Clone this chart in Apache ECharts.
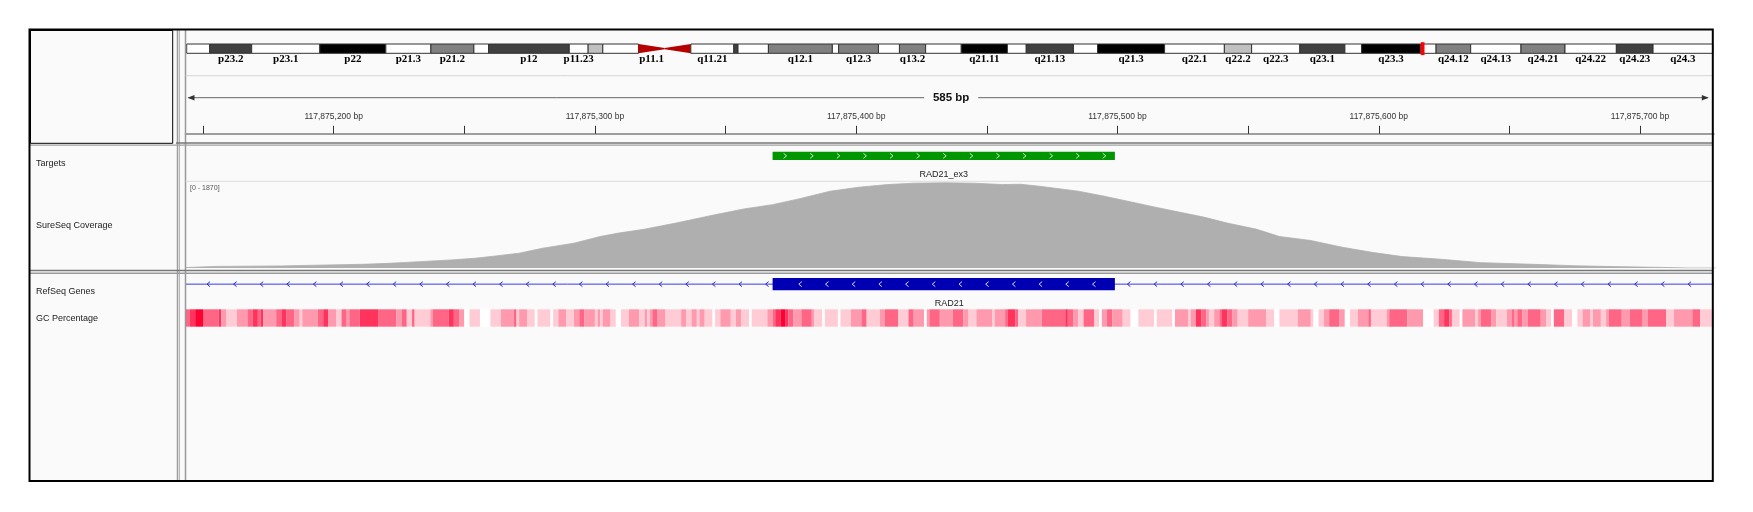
<!DOCTYPE html>
<html>
<head>
<meta charset="utf-8">
<script src="https://cdn.jsdelivr.net/npm/echarts@6.0.0/dist/echarts.min.js"></script>
<style>
html, body { margin: 0; padding: 0; background: #fff; }
#main { width: 1753px; height: 512px; }
</style>
</head>
<body>
<div id="main"></div>
<script>
// visible locus (chr8, hg19)
var viewStart = 117875143.3;
var viewEnd = 117875728.3;
var rulerTicks = [117875150, 117875200, 117875250, 117875300, 117875350, 117875400, 117875450,
  117875500, 117875550, 117875600, 117875650, 117875700];
var rulerLabels = [117875200, 117875300, 117875400, 117875500, 117875600, 117875700];

// chr8 cytobands, Mb
var bandNames = ['p23.3', 'p23.2', 'p23.1', 'p22', 'p21.3', 'p21.2', 'p21.1', 'p12', 'p11.23', 'p11.22',
  'p11.21', 'p11.1', 'q11.1', 'q11.21', 'q11.22', 'q11.23', 'q12.1', 'q12.2', 'q12.3', 'q13.1',
  'q13.2', 'q13.3', 'q21.11', 'q21.12', 'q21.13', 'q21.2', 'q21.3', 'q22.1', 'q22.2', 'q22.3',
  'q23.1', 'q23.2', 'q23.3', 'q24.11', 'q24.12', 'q24.13', 'q24.21', 'q24.22', 'q24.23', 'q24.3'];
var bandStarts = [0, 2.2, 6.2, 12.7, 19.0, 23.3, 27.4, 28.8, 36.5, 38.3,
  39.7, 43.1, 45.6, 48.1, 52.2, 52.6, 55.5, 61.6, 62.2, 66.0,
  68.0, 70.5, 73.9, 78.3, 80.1, 84.6, 86.9, 93.3, 99.0, 101.6,
  106.2, 110.5, 112.1, 117.7, 119.2, 122.5, 127.3, 131.5, 136.4, 139.9];
var bandEnds = [2.2, 6.2, 12.7, 19.0, 23.3, 27.4, 28.8, 36.5, 38.3, 39.7,
  43.1, 45.6, 48.1, 52.2, 52.6, 55.5, 61.6, 62.2, 66.0, 68.0,
  70.5, 73.9, 78.3, 80.1, 84.6, 86.9, 93.3, 99.0, 101.6, 106.2,
  110.5, 112.1, 117.7, 119.2, 122.5, 127.3, 131.5, 136.4, 139.9, 146.364];
var bandStains = ['gneg', 'gpos75', 'gneg', 'gpos100', 'gneg', 'gpos50', 'gneg', 'gpos75', 'gneg', 'gpos25',
  'gneg', 'acen', 'acen', 'gneg', 'gpos75', 'gneg', 'gpos50', 'gneg', 'gpos50', 'gneg',
  'gpos50', 'gneg', 'gpos100', 'gneg', 'gpos75', 'gneg', 'gpos100', 'gneg', 'gpos25', 'gneg',
  'gpos75', 'gneg', 'gpos100', 'gneg', 'gpos50', 'gneg', 'gpos50', 'gneg', 'gpos75', 'gneg'];
var bandShowLabel = [0, 1, 1, 1, 1, 1, 0, 1, 1, 0,
  0, 1, 0, 1, 0, 0, 1, 0, 1, 0,
  1, 0, 1, 0, 1, 0, 1, 1, 1, 1,
  1, 0, 1, 0, 1, 1, 1, 1, 1, 1];
var ideoMax = 145.6; // the panel edge cuts the chromosome here
var stainColors = { gneg: '#ffffff', gpos25: '#c0c0c0', gpos50: '#808080', gpos75: '#404040', gpos100: '#000000' };

// Targets track
var targetStarts = [117875368];
var targetEnds = [117875499];
var targetNames = ['RAD21_ex3'];

// RefSeq gene
var geneName = 'RAD21';
var geneStart = 117858173;
var geneEnd = 117887105;
var exonStarts = [117875368];
var exonEnds = [117875499];

// SureSeq coverage, positions are bp after 117,875,000
var posBase = 117875000;
var covMax = 1870;
var covPos = [143, 155, 180, 193, 211, 221, 233, 245, 254, 262, 271, 280, 292, 302, 309, 319, 331, 346,
  357, 368, 378, 390, 401, 412, 422, 434, 445, 456, 463, 470, 485, 495, 507, 514, 524, 533, 542, 553,
  562, 574, 586, 598, 609, 624, 639, 659, 674, 690, 711, 718, 729];
var covVal = [8, 35, 45, 60, 80, 100, 137, 174, 210, 260, 320, 428, 537, 680, 754, 840, 971, 1152,
  1276, 1370, 1493, 1660, 1746, 1804, 1833, 1841, 1833, 1804, 1810, 1768, 1660, 1551, 1406, 1320, 1203, 1100, 971, 841,
  681, 594, 449, 333, 246, 188, 116, 80, 51, 30, 10, 0, 0];

// GC percentage runs: start (bp after 117,875,000) and GC %
var gcStarts = [142, 145, 147, 150, 156, 157, 159, 163, 167, 169, 171, 172, 173, 178, 180, 182, 185, 187, 188, 194,
  196, 198, 201, 203, 205, 206, 210, 217, 224, 226, 228, 230, 231, 237, 238, 244, 246, 248, 250, 252,
  256, 260, 264, 269, 270, 271, 274, 277, 278, 283, 284, 286, 289, 292, 294, 296, 300, 301, 302, 303,
  306, 308, 310, 313, 317, 319, 320, 321, 322, 324, 327, 333, 335, 337, 339, 340, 342, 345, 346, 348,
  352, 354, 356, 359, 360, 366, 368, 369, 371, 373, 374, 376, 379, 383, 384, 387, 388, 393, 394, 398,
  402, 404, 409, 411, 416, 420, 422, 426, 427, 428, 432, 437, 441, 443, 446, 452, 453, 457, 458, 461,
  462, 465, 471, 480, 481, 483, 485, 487, 491, 493, 494, 496, 498, 502, 505, 508, 514, 515, 521, 522,
  527, 528, 530, 532, 534, 535, 537, 539, 540, 542, 544, 546, 550, 557, 560, 562, 569, 574, 575, 577,
  579, 581, 585, 587, 589, 592, 596, 597, 603, 604, 611, 617, 621, 623, 625, 627, 628, 631, 632, 637,
  638, 639, 643, 645, 649, 651, 652, 653, 655, 657, 662, 664, 666, 667, 671, 674, 676, 678, 681, 682,
  685, 687, 688, 693, 696, 701, 703, 710, 713, 720, 723];
var gcPct = [60, 80, 100, 60, 80, 40, 20, 40, 60, 80, 60, 80, 40, 60, 80, 60, 40, 20, 40, 60,
  80, 40, 20, 60, 40, 60, 80, 60, 40, 60, 20, 60, 20, 40, 60, 80, 60, 40, 0, 20,
  0, 20, 40, 60, 20, 40, 20, 0, 20, 0, 20, 40, 20, 40, 60, 40, 20, 40, 20, 40,
  20, 0, 20, 40, 20, 40, 20, 40, 60, 40, 20, 40, 20, 40, 20, 40, 20, 0, 20, 40,
  20, 40, 20, 0, 20, 40, 60, 80, 100, 80, 60, 40, 60, 40, 20, 0, 20, 0, 20, 40,
  60, 20, 40, 60, 20, 60, 40, 0, 40, 60, 40, 60, 40, 20, 40, 20, 40, 60, 80, 60,
  20, 40, 60, 80, 60, 40, 20, 60, 20, 0, 40, 60, 40, 20, 0, 20, 0, 20, 0, 40,
  20, 40, 80, 60, 40, 20, 40, 60, 80, 60, 40, 20, 40, 20, 0, 20, 40, 20, 0, 20,
  40, 60, 40, 0, 20, 40, 60, 20, 40, 60, 40, 0, 20, 60, 80, 60, 20, 0, 40, 20,
  40, 60, 40, 20, 40, 60, 40, 60, 40, 60, 40, 20, 0, 60, 20, 0, 20, 40, 20, 40,
  20, 40, 60, 40, 60, 40, 60, 20, 40, 60, 20];

var trackNames = ['Targets', 'SureSeq Coverage', 'RefSeq Genes', 'GC Percentage'];

// ---- layout ----
var dataLeft = 185.5, dataRight = 1714;
var frameRight = 1712.8;
var dataWidth = dataRight - dataLeft;
var sans = '"Liberation Sans", Arial, sans-serif';

function clampBp(v) { return Math.max(viewStart, Math.min(viewEnd, v)); }
function gcColor(p) {
  var t = p / 100;
  return 'rgb(255,' + Math.round(255 - 255 * t) + ',' + Math.round(255 - 204 * t) + ')';
}
function fmtBp(v) { return String(v).replace(/\B(?=(\d{3})+(?!\d))/g, ',') + ' bp'; }

var chartDom = document.getElementById('main');
var myChart = echarts.init(chartDom);
var option;

function xAx(i, min, max) {
  return { gridIndex: i, type: 'value', min: min, max: max, show: false };
}
function yAx(i, min, max) {
  return { gridIndex: i, type: 'value', min: min, max: max, show: false };
}

var ideoData = bandNames.map(function (n, i) { return [bandStarts[i], bandEnds[i], i]; });
var gcData = gcStarts.map(function (s, i) {
  var e = i + 1 < gcStarts.length ? posBase + gcStarts[i + 1] : viewEnd;
  return [posBase + s, e, gcPct[i]];
});
var covData = covPos.map(function (p, i) { return [posBase + p, covVal[i]]; });
var targetData = targetStarts.map(function (s, i) { return [s, targetEnds[i], i]; });

var graphics = [
  { type: 'rect', z: -10, shape: { x: 30, y: 30, width: frameRight - 30, height: 451 }, style: { fill: '#fafafa' } },
  // header name box
  { type: 'rect', z: 100, shape: { x: 30.5, y: 30.5, width: 142.2, height: 112.8 }, style: { fill: null, stroke: '#000', lineWidth: 1 } },
  { type: 'line', z: 100, shape: { x1: 177.3, y1: 30, x2: 177.3, y2: 481 }, style: { stroke: '#888', lineWidth: 1 } },
  { type: 'line', z: 100, shape: { x1: 179.2, y1: 30, x2: 179.2, y2: 481 }, style: { stroke: '#999', lineWidth: 1 } },
  { type: 'line', z: 100, shape: { x1: 185.5, y1: 30, x2: 185.5, y2: 481 }, style: { stroke: '#999', lineWidth: 1.5 } },
  // header separators
  { type: 'line', z: 100, shape: { x1: dataLeft, y1: 75.7, x2: frameRight, y2: 75.7 }, style: { stroke: '#d6d6d6', lineWidth: 1 } },
  { type: 'line', z: 100, shape: { x1: 176, y1: 143, x2: frameRight, y2: 143 }, style: { stroke: '#777', lineWidth: 1.5 } },
  { type: 'line', z: 100, shape: { x1: 30, y1: 145.2, x2: frameRight, y2: 145.2 }, style: { stroke: '#a0a0a0', lineWidth: 1.3 } },
  { type: 'line', z: 100, shape: { x1: 30, y1: 270.5, x2: frameRight, y2: 270.5 }, style: { stroke: '#777', lineWidth: 1.5 } },
  { type: 'line', z: 100, shape: { x1: 30, y1: 273.2, x2: frameRight, y2: 273.2 }, style: { stroke: '#999', lineWidth: 1.5 } },
  { type: 'line', z: 100, shape: { x1: dataLeft, y1: 181.3, x2: frameRight, y2: 181.3 }, style: { stroke: '#dcdcdc', lineWidth: 1 } },
  // outer frame
  { type: 'rect', z: 110, shape: { x: 29.5, y: 29.5, width: frameRight - 29.5, height: 451.5 }, style: { fill: null, stroke: '#000', lineWidth: 2 } }
];

// ruler span line with the width label
var spanText = Math.round(viewEnd - viewStart) + ' bp';
var midX = (dataLeft + frameRight) / 2;
graphics.push(
  { type: 'line', shape: { x1: dataLeft + 3, y1: 97.7, x2: midX - 25, y2: 97.7 }, style: { stroke: '#666', lineWidth: 1 } },
  { type: 'line', shape: { x1: midX + 29, y1: 97.7, x2: frameRight - 5, y2: 97.7 }, style: { stroke: '#666', lineWidth: 1 } },
  { type: 'polygon', shape: { points: [[dataLeft + 2, 97.7], [dataLeft + 9, 95], [dataLeft + 9, 100.4]] }, style: { fill: '#333' } },
  { type: 'polygon', shape: { points: [[frameRight - 4, 97.7], [frameRight - 11, 95], [frameRight - 11, 100.4]] }, style: { fill: '#333' } },
  { type: 'text', style: { text: spanText, x: midX + 2, y: 97.5, align: 'center', verticalAlign: 'middle', font: 'bold 11.5px ' + sans, fill: '#111' } },
  { type: 'text', style: { text: '[0 - ' + covMax + ']', x: 190, y: 188, verticalAlign: 'middle', font: '7px ' + sans, fill: '#555' } }
);
var nameY = [164, 226, 292, 319];
trackNames.forEach(function (n, i) {
  graphics.push({ type: 'text', z: 50, style: { text: n, x: 36, y: nameY[i], verticalAlign: 'middle', font: '9px ' + sans, fill: '#222' } });
});

function chevrons(children, x0, x1, first, step, cy, dir, color) {
  for (var x = x0 + first; x < x1 - 4; x += step) {
    children.push({
      type: 'polyline',
      shape: { points: [[x - 1.5 * dir, cy - 2.5], [x + 1.5 * dir, cy], [x - 1.5 * dir, cy + 2.5]] },
      style: { stroke: color, lineWidth: 1, fill: null }
    });
  }
}

option = {
  animation: false,
  backgroundColor: '#ffffff',
  graphic: graphics,
  grid: [
    { left: 186.7, width: frameRight - 186.7, top: 44, height: 9.3 },
    { left: dataLeft, width: dataWidth, top: 100, height: 33.8 },
    { left: dataLeft, width: dataWidth, top: 151.7, height: 8.3 },
    { left: dataLeft, width: dataWidth, top: 181.5, height: 86.5 },
    { left: dataLeft, width: dataWidth, top: 278, height: 12.3 },
    { left: dataLeft, width: dataWidth, top: 309.3, height: 17.4 }
  ],
  xAxis: [
    xAx(0, 0, ideoMax),
    {
      gridIndex: 1, type: 'value', min: viewStart, max: viewEnd, position: 'bottom',
      axisLine: { show: true, lineStyle: { color: '#808080', width: 1.5 } },
      axisTick: { show: true, inside: true, length: 8, customValues: rulerTicks, lineStyle: { color: '#333', width: 1 } },
      axisLabel: {
        show: true, inside: true, margin: 12.5, customValues: rulerLabels, formatter: fmtBp,
        fontSize: 8.5, color: '#333', fontFamily: sans
      },
      splitLine: { show: false }
    },
    xAx(2, viewStart, viewEnd),
    xAx(3, viewStart, viewEnd),
    xAx(4, viewStart, viewEnd),
    xAx(5, viewStart, viewEnd)
  ],
  yAxis: [yAx(0, 0, 1), yAx(1, 0, 1), yAx(2, 0, 1), yAx(3, 0, covMax), yAx(4, 0, 1), yAx(5, 0, 1)],
  series: [
    {
      // ideogram
      type: 'custom', xAxisIndex: 0, yAxisIndex: 0, data: ideoData,
      renderItem: function (params, api) {
        var i = api.value(2);
        var x0 = api.coord([api.value(0), 0])[0];
        var x1 = api.coord([Math.min(api.value(1), ideoMax), 0])[0];
        var top = api.coord([0, 1])[1], bot = api.coord([0, 0])[1], mid = (top + bot) / 2;
        var children = [];
        var st = bandStains[i];
        if (st === 'acen') {
          var pts = bandNames[i].charAt(0) === 'p'
            ? [[x0, top], [x1, mid - 0.6], [x1, mid + 0.6], [x0, bot]]
            : [[x0, mid - 0.6], [x1, top], [x1, bot], [x0, mid + 0.6]];
          children.push({ type: 'polygon', shape: { points: pts }, style: { fill: '#b40000' } });
        } else {
          children.push({
            type: 'rect', shape: { x: x0, y: top, width: x1 - x0, height: bot - top },
            style: { fill: stainColors[st], stroke: '#333', lineWidth: 1 }
          });
        }
        if (bandShowLabel[i]) {
          children.push({
            type: 'text',
            style: {
              text: bandNames[i], x: (x0 + x1) / 2, y: bot + 5.5, align: 'center', verticalAlign: 'middle',
              font: 'bold 11px "Liberation Serif", "Times New Roman", serif', fill: '#000'
            }
          });
        }
        return { type: 'group', children: children };
      }
    },
    {
      // current locus marker on the ideogram
      type: 'custom', xAxisIndex: 0, yAxisIndex: 0, z: 5,
      data: [[(viewStart + viewEnd) / 2e6]],
      renderItem: function (params, api) {
        var x = api.coord([api.value(0), 0])[0];
        var top = api.coord([0, 1])[1], bot = api.coord([0, 0])[1];
        return { type: 'rect', shape: { x: x - 1.5, y: top - 1.8, width: 3.8, height: bot - top + 3.6 }, style: { fill: '#ff0000' } };
      }
    },
    {
      // targets
      type: 'custom', xAxisIndex: 2, yAxisIndex: 2, data: targetData,
      renderItem: function (params, api) {
        var x0 = api.coord([clampBp(api.value(0)), 0])[0];
        var x1 = api.coord([clampBp(api.value(1)), 0])[0];
        var top = api.coord([0, 1])[1], bot = api.coord([0, 0])[1], mid = (top + bot) / 2;
        var children = [{ type: 'rect', shape: { x: x0, y: top, width: x1 - x0, height: bot - top }, style: { fill: '#009600' } }];
        chevrons(children, x0, x1, 12.5, 26.6, mid, 1, 'rgba(255,255,255,0.8)');
        children.push({
          type: 'text',
          style: { text: targetNames[api.value(2)], x: (x0 + x1) / 2, y: bot + 14.7, align: 'center', verticalAlign: 'middle', font: '9px ' + sans, fill: '#222' }
        });
        return { type: 'group', children: children };
      }
    },
    {
      // coverage
      type: 'line', xAxisIndex: 3, yAxisIndex: 3, data: covData,
      symbol: 'none', lineStyle: { color: '#afafaf', width: 0.8 },
      areaStyle: { color: '#afafaf', opacity: 1 }
    },
    {
      // gene model
      type: 'custom', xAxisIndex: 4, yAxisIndex: 4, data: [[geneStart, geneEnd]],
      renderItem: function (params, api) {
        var g0 = api.coord([clampBp(api.value(0)), 0])[0];
        var g1 = api.coord([clampBp(api.value(1)), 0])[0];
        var top = api.coord([0, 1])[1], bot = api.coord([0, 0])[1], mid = (top + bot) / 2;
        var children = [{ type: 'line', shape: { x1: g0, y1: mid, x2: g1, y2: mid }, style: { stroke: '#3c3ce6', lineWidth: 1 } }];
        var prev = g0;
        exonStarts.forEach(function (s, k) {
          var e0 = api.coord([clampBp(s), 0])[0];
          var e1 = api.coord([clampBp(exonEnds[k]), 0])[0];
          chevrons(children, prev, e0, k === 0 ? 23 : 14, 26.6, mid, -1, '#2a2ad0');
          children.push({ type: 'rect', shape: { x: e0, y: top, width: e1 - e0, height: bot - top }, style: { fill: '#0000b2' } });
          chevrons(children, e0, e1, 27.7, 26.7, mid, -1, 'rgba(255,255,255,0.85)');
          prev = e1;
        });
        chevrons(children, prev, g1, 14, 26.7, mid, -1, '#2a2ad0');
        children.push({
          type: 'text',
          style: { text: geneName, x: (dataLeft + frameRight) / 2, y: bot + 13, align: 'center', verticalAlign: 'middle', font: '9px ' + sans, fill: '#222' }
        });
        return { type: 'group', children: children };
      }
    },
    {
      // GC percentage
      type: 'custom', xAxisIndex: 5, yAxisIndex: 5, data: gcData,
      renderItem: function (params, api) {
        var x0 = api.coord([clampBp(api.value(0)), 0])[0];
        var x1 = api.coord([clampBp(api.value(1)), 0])[0];
        var top = api.coord([0, 1])[1], bot = api.coord([0, 0])[1];
        return {
          type: 'rect', shape: { x: x0, y: top, width: Math.max(0, x1 - x0), height: bot - top },
          style: { fill: gcColor(api.value(2)) }
        };
      }
    }
  ]
};

option && myChart.setOption(option);
</script>
</body>
</html>
